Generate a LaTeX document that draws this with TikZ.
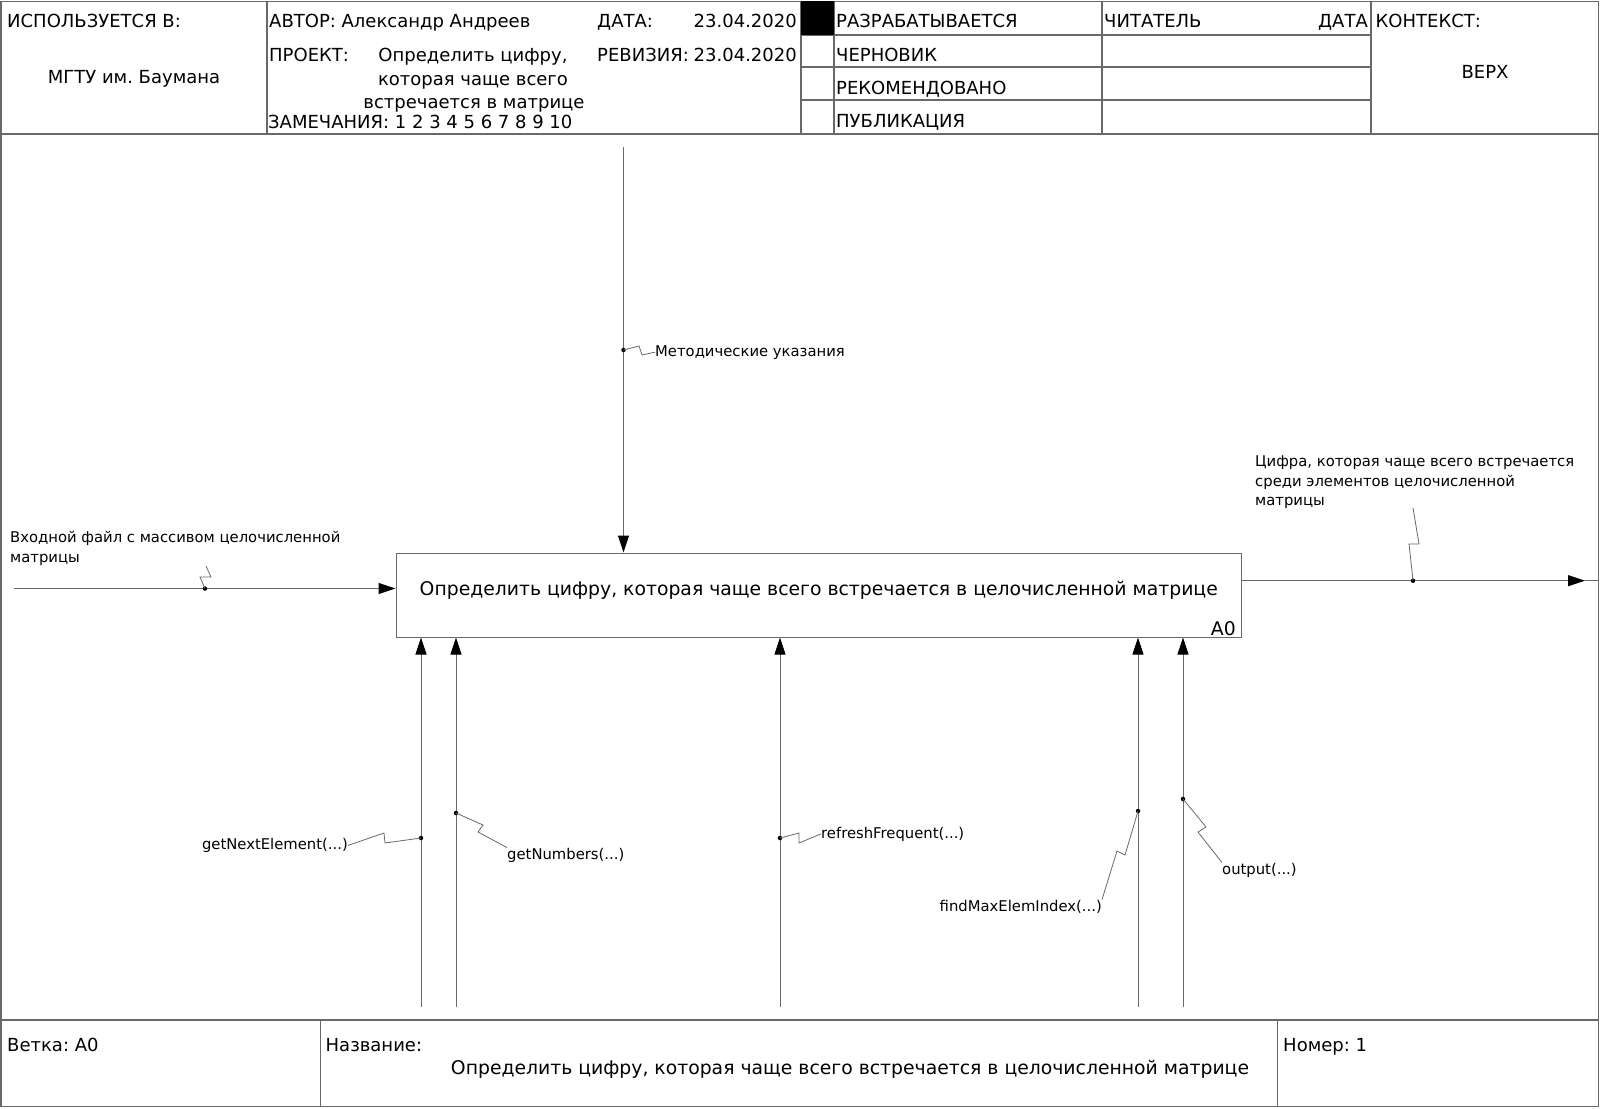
\documentclass[tikz,border=0pt]{standalone}
\usepackage{fontspec}
\setmainfont{DejaVu Sans}
\usetikzlibrary{arrows.meta}
\frenchspacing

\definecolor{linegray}{RGB}{105,105,105}

\tikzset{
  hdr/.style={font=\fontsize{18}{21}\selectfont, inner sep=0pt},
  lbl/.style={font=\fontsize{14.8}{18}\selectfont, inner sep=0pt},
  ttl/.style={font=\fontsize{18.8}{22}\selectfont, inner sep=0pt},
  rule/.style={draw=linegray, line width=1.2pt},
  flow/.style={draw=linegray, line width=1pt,
    -{Triangle[length=17pt,width=11pt,color=black]}},
  plain/.style={draw=linegray, line width=1pt},
  squig/.style={draw=linegray, line width=0.8pt},
  pin/.style={circle, fill=black, inner sep=0pt, minimum size=4.5pt},
  funcbox/.style={draw=linegray, line width=1pt, inner sep=0pt}
}

\begin{document}
\begin{tikzpicture}[x=1pt,y=-1pt]
\useasboundingbox (0,0) rectangle (1600,1108);

% outer frame
\draw[rule] (1,1.5) rectangle (1598.5,1106.5);

% ---------- header block ----------
\draw[rule] (1,134) -- (1598.5,134);
\foreach \x in {267,801,834,1102,1371} \draw[rule] (\x,1.5) -- (\x,134);
\foreach \y in {35,67,100} \draw[rule] (801,\y) -- (1371,\y);
\fill[black] (801,1.5) rectangle (834,35);

\node[hdr, anchor=base west] (used) at (7,28) {ИСПОЛЬЗУЕТСЯ В:};
\node[hdr, anchor=base] (org) at (134,84) {МГТУ им. Баумана};

\node[hdr, anchor=base west] (author) at (269,28) {АВТОР: Александр Андреев};
\node[hdr, anchor=base west] (project) at (269,61.5) {ПРОЕКТ:};
\node[hdr, anchor=base] (proj1) at (473,61.5) {Определить цифру,};
\node[hdr, anchor=base] (proj2) at (473,85) {которая чаще всего};
\node[hdr, anchor=base] (proj3) at (474,108) {встречается в матрице};
\node[hdr, anchor=base west] (notes) at (268,128) {ЗАМЕЧАНИЯ: 1 2 3 4 5 6 7 8 9 10};

\node[hdr, anchor=base west] (date) at (597,28) {ДАТА:};
\node[hdr, anchor=base east] (dateval) at (797,28) {23.04.2020};
\node[hdr, anchor=base west] (rev) at (597,61.5) {РЕВИЗИЯ:};
\node[hdr, anchor=base east] (revval) at (797,61.5) {23.04.2020};

\node[hdr, anchor=base west] (st1) at (836,28) {РАЗРАБАТЫВАЕТСЯ};
\node[hdr, anchor=base west] (st2) at (836,61.5) {ЧЕРНОВИК};
\node[hdr, anchor=base west] (st3) at (836,94) {РЕКОМЕНДОВАНО};
\node[hdr, anchor=base west] (st4) at (836,127) {ПУБЛИКАЦИЯ};

\node[hdr, anchor=base west] (reader) at (1104,28) {ЧИТАТЕЛЬ};
\node[hdr, anchor=base east] (rdate) at (1368,28) {ДАТА};

\node[hdr, anchor=base west] (ctx) at (1375.5,28) {КОНТЕКСТ:};
\node[hdr, anchor=base] (top) at (1485,78) {ВЕРХ};

% ---------- footer block ----------
\draw[rule] (1,1020) -- (1598.5,1020);
\foreach \x in {320.5,1277.5} \draw[rule] (\x,1020) -- (\x,1106.5);

\node[hdr, anchor=base west] (branch) at (7,1051.5) {Ветка: А0};
\node[hdr, anchor=base west] (name) at (325.5,1051.5) {Название:};
\node[ttl, anchor=base] (nameval) at (850,1074) {Определить цифру, которая чаще всего встречается в целочисленной матрице};
\node[hdr, anchor=base west] (num) at (1283,1051.5) {Номер: 1};

% ---------- function block ----------
\node[funcbox, minimum width=845.5pt, minimum height=84pt] (fn) at (818.75,595) {};
\node[ttl, anchor=base] (fntext) at (818.75,595.5) {Определить цифру, которая чаще всего встречается в целочисленной матрице};
\node[ttl, anchor=base east] (fnid) at (1236,635) {A0};

% input
\coordinate (inS) at (14,588.5);
\draw[flow] (inS) -- (inS -| fn.west);
\node[lbl, anchor=base west] (inL1) at (10,542) {Входной файл с массивом целочисленной};
\node[lbl, anchor=base west] (inL2) at (10,562) {матрицы};
\node[pin] (inP) at (205,588.5) {};
\coordinate (inQ) at (206,566);
\draw[squig] (inP.center) -- (200,577) -- (211,577) -- (inQ);

% output
\coordinate (outT) at (1585,580.7);
\coordinate (outE) at (1598.5,580.7);
\draw[flow] (fn.east |- outT) -- (outT);
\draw[plain] (outT) -- (outE);
\node[lbl, anchor=base west] (outL1) at (1255,466) {Цифра, которая чаще всего встречается};
\node[lbl, anchor=base west] (outL2) at (1255,486) {среди элементов целочисленной};
\node[lbl, anchor=base west] (outL3) at (1255,505) {матрицы};
\node[pin] (outP) at (1413,580.7) {};
\coordinate (outQ) at (1413,508);
\draw[squig] (outP.center) -- (1409,544) -- (1419,544) -- (outQ);

% control
\coordinate (ctlS) at (623.5,147);
\draw[flow] (ctlS) -- (ctlS |- fn.north);
\node[lbl, anchor=base west] (ctlL) at (655,356) {Методические указания};
\node[pin] (ctlP) at (623.5,350) {};
\draw[squig] (ctlP.center) -- (639,346) -- (642,355) -- (ctlL.west);

% mechanisms
\foreach \n/\x in {m1/421,m2/456,m3/780,m4/1138,m5/1183} {
  \coordinate (\n) at (\x,1007);
  \draw[flow] (\n) -- (\n |- fn.south);
}

\node[lbl, anchor=base east] (m1L) at (348,849.5) {getNextElement(...)};
\node[pin] (m1P) at (421,838) {};
\draw[squig] (m1P.center) -- (385,843) -- (384,833) -- (m1L.east);

\node[lbl, anchor=base west] (m2L) at (507,859) {getNumbers(...)};
\node[pin] (m2P) at (456,813) {};
\draw[squig] (m2P.center) -- (483,825) -- (478,832) -- (m2L.north west);

\node[lbl, anchor=base west] (m3L) at (821,838) {refreshFrequent(...)};
\node[pin] (m3P) at (780,838) {};
\draw[squig] (m3P.center) -- (799,833) -- (799,843) -- (m3L.west);

\node[lbl, anchor=base east] (m4L) at (1102,911) {findMaxElemIndex(...)};
\node[pin] (m4P) at (1138,811) {};
\draw[squig] (m4P.center) -- (1125,855) -- (1117,851) -- (m4L.north east);

\node[lbl, anchor=base west] (m5L) at (1222,874) {output(...)};
\node[pin] (m5P) at (1183,799) {};
\draw[squig] (m5P.center) -- (1206,827) -- (1198,832) -- (m5L.north west);

\end{tikzpicture}
\end{document}
